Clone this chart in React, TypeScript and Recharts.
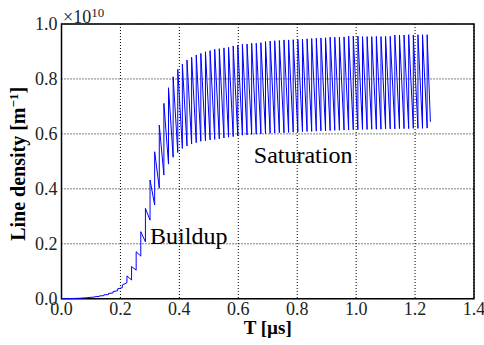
import { CartesianGrid, Line, LineChart, ReferenceArea, ReferenceDot, XAxis, YAxis } from "recharts";

const serif = "Liberation Serif, Times New Roman, serif";

const xTicks = [0, 0.2, 0.4, 0.6, 0.8, 1.0, 1.2, 1.4];
const yTicks = [0, 0.2, 0.4, 0.6, 0.8, 1.0];

// slow start before the wiggles show up
const rampT = [0, 0.03, 0.06, 0.08, 0.1];
const rampV = [0, 0.0005, 0.0015, 0.003, 0.005];

// one entry per oscillation: the line jumps from trough to peak at cycleT, then decays to the next trough
const cycleT = [
  0.1124, 0.128, 0.1437, 0.1594, 0.1751, 0.1907, 0.2064, 0.2221, 0.2378, 0.2534, 0.2691, 0.2848,
  0.3005, 0.3162, 0.3319, 0.3475, 0.3632, 0.3789, 0.3946, 0.4102, 0.4259, 0.4416, 0.4573, 0.4729,
  0.4886, 0.5043, 0.52, 0.5356, 0.5513, 0.567, 0.5827, 0.5983, 0.614, 0.6297, 0.6454, 0.661,
  0.6767, 0.6924, 0.7081, 0.7237, 0.7394, 0.7551, 0.7708, 0.7864, 0.8021, 0.8178, 0.8335, 0.8491,
  0.8648, 0.8805, 0.8962, 0.9118, 0.9275, 0.9432, 0.9589, 0.9745, 0.9902, 1.0059, 1.0216, 1.0372,
  1.0529, 1.0686, 1.0843, 1.0999, 1.1156, 1.1313, 1.147, 1.1626, 1.1783, 1.194, 1.2097, 1.2253, 1.241,
];
const troughV = [
  0.006, 0.008, 0.011, 0.015, 0.021, 0.029, 0.04, 0.058, 0.068, 0.104, 0.155, 0.207,
  0.286, 0.341, 0.402, 0.45, 0.49, 0.515, 0.532, 0.547, 0.556, 0.563, 0.568, 0.573,
  0.575, 0.578, 0.58, 0.582, 0.585, 0.588, 0.59, 0.592, 0.595, 0.596, 0.598, 0.599,
  0.6, 0.601, 0.602, 0.603, 0.604, 0.604, 0.605, 0.606, 0.607, 0.608, 0.609, 0.609,
  0.61, 0.611, 0.611, 0.612, 0.613, 0.613, 0.614, 0.614, 0.615, 0.615, 0.616, 0.616,
  0.617, 0.617, 0.617, 0.618, 0.618, 0.618, 0.619, 0.619, 0.619, 0.62, 0.62, 0.62, 0.621,
];
const peakV = [
  0.007, 0.01, 0.014, 0.019, 0.026, 0.036, 0.05, 0.083, 0.117, 0.171, 0.244, 0.329,
  0.432, 0.535, 0.632, 0.711, 0.768, 0.808, 0.835, 0.854, 0.869, 0.879, 0.887, 0.893,
  0.899, 0.903, 0.908, 0.91, 0.913, 0.915, 0.92, 0.923, 0.926, 0.927, 0.93, 0.93,
  0.932, 0.936, 0.938, 0.939, 0.94, 0.942, 0.942, 0.943, 0.944, 0.945, 0.946, 0.947,
  0.948, 0.949, 0.95, 0.952, 0.952, 0.952, 0.953, 0.956, 0.956, 0.956, 0.954, 0.954,
  0.954, 0.955, 0.954, 0.955, 0.955, 0.96, 0.96, 0.96, 0.961, 0.96, 0.961, 0.961, 0.961,
];
const endT = 1.252;
const endV = 0.644;

const notes = [
  { t: 0.3005, v: 0.2, text: "Buildup" },
  { t: 0.6526, v: 0.493, text: "Saturation" },
];

const rows = [
  ...rampT.map((t, i) => ({ t, v: rampV[i] })),
  ...cycleT.flatMap((t, i) => [
    { t, v: troughV[i] },
    { t, v: peakV[i] },
  ]),
  { t: endT, v: endV },
];

function YTitle({ viewBox }: any) {
  const cy = viewBox.y + viewBox.height / 2 + 2.5;
  const right = viewBox.x + viewBox.width;
  return (
    <g>
      <text
        transform={`translate(24.5,${cy}) rotate(-90)`}
        textAnchor="middle"
        fontFamily={serif}
        fontSize={20}
        fontWeight="bold"
        fill="#000"
      >
        Line density [m
        <tspan dy={-7} fontSize={13}>
          −1
        </tspan>
        <tspan dy={7}>]</tspan>
      </text>
      <text x={right + 1.5} y={viewBox.y - 1} fontFamily={serif} fontSize={18} fill="#222">
        ×10
        <tspan dy={-6} fontSize={13}>
          10
        </tspan>
      </text>
    </g>
  );
}

function XTitle({ viewBox }: any) {
  return (
    <text
      x={viewBox.x + viewBox.width / 2}
      y={viewBox.y + 35.5}
      textAnchor="middle"
      fontFamily={serif}
      fontSize={19}
      fontWeight="bold"
      fill="#000"
    >
      T [µs]
    </text>
  );
}

const tickStyle = { fontSize: 18, fontFamily: serif, fill: "#222" };

export default function App() {
  return (
    <div style={{ position: "absolute", left: 0, top: 0, background: "#fff", fontFamily: serif }}>
      <LineChart
        width={484}
        height={345}
        data={rows}
        margin={{ top: 24, right: 10, left: 0, bottom: 0 }}
        style={{ fontFamily: serif }}
      >
        <CartesianGrid stroke="#000" strokeWidth={1} strokeDasharray="1 2" />
        <XAxis
          dataKey="t"
          type="number"
          domain={[0, 1.4]}
          ticks={xTicks}
          tickFormatter={(v: number) => v.toFixed(1)}
          tick={tickStyle}
          axisLine={false}
          tickLine={false}
          tickSize={0}
          tickMargin={4}
          height={46.3}
          interval={0}
          label={{ content: XTitle }}
        />
        <YAxis
          type="number"
          domain={[0, 1]}
          ticks={yTicks}
          tickFormatter={(v: number) => v.toFixed(1)}
          tick={tickStyle}
          axisLine={false}
          tickLine={false}
          tickSize={0}
          tickMargin={4}
          width={61.5}
          interval={0}
          label={{ content: YTitle }}
        />
        <Line
          type="linear"
          dataKey="v"
          stroke="#0000ff"
          strokeWidth={1}
          dot={false}
          activeDot={false}
          isAnimationActive={false}
        />
        <ReferenceArea x1={0} x2={1.4} y1={0} y2={1} fill="none" stroke="#000" strokeWidth={1.5} />
        {notes.map((n) => (
          <ReferenceDot
            key={n.text}
            x={n.t}
            y={n.v}
            r={0}
            shape={(p: any) => (
              <text x={p.cx} y={p.cy} fontFamily={serif} fontSize={24} fill="#000">
                {n.text}
              </text>
            )}
          />
        ))}
      </LineChart>
    </div>
  );
}
